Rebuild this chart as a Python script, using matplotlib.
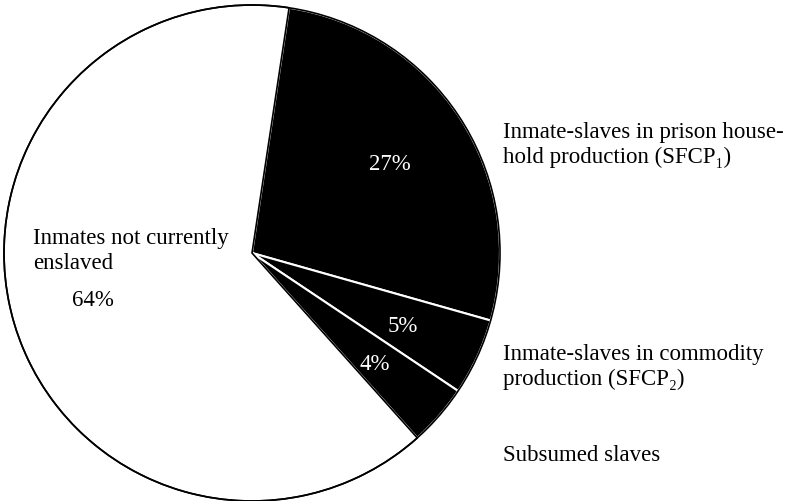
import matplotlib
matplotlib.use("Agg")
import matplotlib.pyplot as plt
from matplotlib.patches import Circle

# Shares of the prison population (percent), clockwise from the top
groups = ["Inmate-slaves in prison house-\nhold production (SFCP\u2081)",
          "Inmate-slaves in commodity\nproduction (SFCP\u2082)",
          "Subsumed slaves",
          "Inmates not currently\nenslaved"]
shares = [27, 5, 4, 64]
colors = ["black", "black", "black", "white"]

plt.rcParams["font.family"] = ["Liberation Serif", "DejaVu Serif"]

fig = plt.figure(figsize=(7.93, 5.02), dpi=100)
ax = fig.add_axes([0, 0, 1, 1])

cx, cy, r = 252, 248, 248
wedges, _ = ax.pie(shares, colors=colors, startangle=81.4, counterclock=False,
                   center=(cx, cy), radius=r,
                   wedgeprops=dict(edgecolor="white", linewidth=1.5))
ax.set_xlim(0, 793)
ax.set_ylim(0, 502)
ax.set_aspect("equal")
ax.axis("off")

# the unshaded slice gets a black outline
wedges[3].set_edgecolor("black")
wedges[3].set_linewidth(1.2)
wedges[3].set_zorder(3)
ax.add_patch(Circle((cx, cy), r, fill=False, edgecolor="black", linewidth=1.2, zorder=4))

fs = 16.5
# percentage labels inside slices
pct_pos = [(390, 502 - 165), (403, 502 - 326), (375, 502 - 364), (93, 502 - 300)]
for val, col, (x, y) in zip(shares, ["white", "white", "white", "black"], pct_pos):
    ax.text(x, y, f"{val}%", color=col, fontsize=fs, ha="center", va="center", zorder=5)

# category labels
name_pos = [(503, 502 - 145), (503, 502 - 367), (503, 502 - 456), (33, 502 - 251)]
for name, (x, y) in zip(groups, name_pos):
    ax.text(x, y, name, fontsize=fs, ha="left", va="center", linespacing=1.2, zorder=5)

fig.savefig("out.png", dpi=100)
